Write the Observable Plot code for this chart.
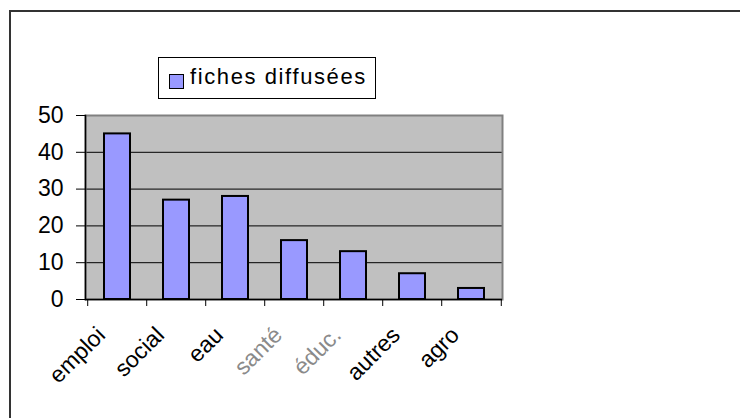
<!DOCTYPE html>
<html>
<head>
<meta charset="utf-8">
<script src="https://cdn.jsdelivr.net/npm/d3@7"></script>
<script src="https://cdn.jsdelivr.net/npm/@observablehq/plot@0.6"></script>
<style>
  html, body { margin: 0; padding: 0; background: #fff; }
  #wrap { position: relative; width: 740px; height: 418px; overflow: hidden; font-family: "Liberation Sans", Arial, sans-serif; }
  #frame { position: absolute; left: 9px; top: 10px; right: -5px; bottom: -5px; border-left: 2px solid #333; border-top: 2px solid #333; pointer-events: none; }
  #legend { position: absolute; left: 158px; top: 57px; width: 218px; height: 42px; border: 1px solid #000; background: #fff; box-sizing: border-box; }
  #legend .sw { position: absolute; left: 10px; top: 16px; width: 15px; height: 15px; background: #9999ff; border: 1.5px solid #000; box-sizing: border-box; }
  #legend .lb { position: absolute; left: 31px; top: 6px; font-size: 22px; line-height: 26px; letter-spacing: 1.6px; color: #000; white-space: nowrap; }
  #chart svg text.xl { letter-spacing: 1px; }
</style>
</head>
<body>
<div id="wrap">
  <div id="chart"></div>
  <div id="frame"></div>
  <div id="legend"><div class="sw"></div><div class="lb" id="legendLabel"></div></div>
</div>
<script>
const categories = ["emploi", "social", "eau", "santé", "éduc.", "autres", "agro"];
const values = [45, 27, 28, 16, 13, 7, 3];
const grayLabels = ["santé", "éduc."];
const yTicks = [0, 10, 20, 30, 40, 50];
const gridValues = [10, 20, 30, 40];
const seriesName = "fiches diffusées";

const data = categories.map((c, i) => ({cat: c, value: values[i]}));
document.getElementById("legendLabel").textContent = seriesName;

const W = 740, H = 418, ML = 85, MR = 238, MT = 115, MB = 119;
const step = (W - ML - MR) / categories.length;

const chart = Plot.plot({
  width: W, height: H,
  marginLeft: ML, marginRight: MR, marginTop: MT, marginBottom: MB,
  style: {fontFamily: "'Liberation Sans', Arial, sans-serif", fontSize: "22px", color: "#000", background: "transparent"},
  x: {domain: categories, paddingInner: 0.56, paddingOuter: 0.28, axis: null, label: null},
  y: {domain: [0, 50], axis: null, label: null},
  marks: [
    Plot.frame({fill: "#c0c0c0"}),
    Plot.ruleY(gridValues, {stroke: "#000", strokeWidth: 1}),
    Plot.frame({stroke: "#808080", strokeWidth: 2}),
    Plot.barY(data, {x: "cat", y: "value", fill: "#9999ff", stroke: "#000", strokeWidth: 2}),
    Plot.frame({anchor: "left", stroke: "#000", strokeWidth: 1.5}),
    Plot.ruleY([0], {stroke: "#000", strokeWidth: 1.5}),
    Plot.axisY({ticks: yTicks, tickSize: 9, tickPadding: 13, fontSize: 23, tickFormat: d => String(d), stroke: "#000", label: null}),
    Plot.axisX({ticks: categories, tickSize: 7, dx: -step / 2, tickFormat: () => "", stroke: "#000", label: null}),
    Plot.axisX({ticks: [categories[categories.length - 1]], tickSize: 7, dx: step / 2, tickFormat: () => "", stroke: "#000", label: null}),
    Plot.text(categories.filter(c => !grayLabels.includes(c)), {x: d => d, y: 0, text: d => d, rotate: -45, textAnchor: "end", lineAnchor: "bottom", dx: -11, dy: 37, fontSize: 23, fill: "#000", className: "xl"}),
    Plot.text(categories.filter(c => grayLabels.includes(c)), {x: d => d, y: 0, text: d => d, rotate: -45, textAnchor: "end", lineAnchor: "bottom", dx: -11, dy: 37, fontSize: 23, fill: "#8a8a8a", className: "xl"})
  ]
});
document.getElementById("chart").appendChild(chart);
</script>
</body>
</html>
